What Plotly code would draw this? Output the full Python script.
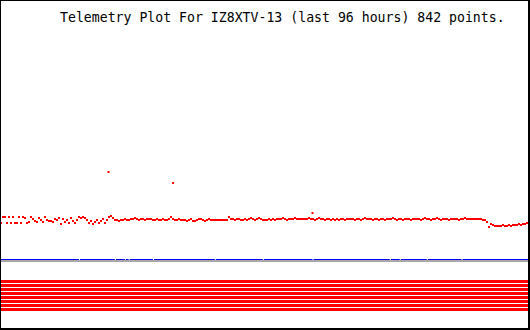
import numpy as np
import plotly.graph_objects as go

# ---- data ----
title_text = "Telemetry Plot For IZ8XTV-13 (last 96 hours) 842 points."
span_hours = 96

# telemetry samples (raw units), evenly spaced over the 96 hours
values = [
    35, 41, 41, 35, 41, 35, 41, 35, 35, 41, 35, 41, 40, 35, 36, 41, 39, 37, 36, 40,
    38, 36, 41, 38, 37, 37, 36, 39, 38, 40,
    34, 39, 36, 38, 35, 40, 37, 35, 38, 41, 40, 41, 40, 38, 35, 37, 34, 36, 38, 35,
    37, 39, 35, 38, 41, 42,
    40, 38, 38, 37, 38, 38, 39, 38, 38, 39, 39, 40, 39, 38, 39, 39, 38, 39, 39, 39,
    38, 38, 39, 38, 38, 39, 38, 38, 39, 41, 39, 38, 38, 39,
    38, 38, 38, 37, 38, 39, 37, 37, 38, 39,
    39, 38, 37, 38, 39, 38, 38, 38, 38, 38,
    38, 38, 38, 38, 41, 39, 39, 38, 39, 39,
    38, 38, 39, 38, 39, 40, 39, 38, 39, 40,
    39, 38, 38, 38, 39, 38, 39, 38, 39, 39,
    39, 40, 39, 38, 39, 39, 39, 40, 39, 39,
    39, 39, 39, 39, 40, 39, 39, 38, 39, 40,
    39, 39, 38, 39, 39, 38, 39, 38, 39, 38,
    39, 39, 38, 39, 39,
    39, 39, 38, 39, 39, 38, 39, 40, 39, 39,
    39, 38, 39, 39, 38, 39, 39, 38, 39, 39,
    39, 40, 39, 38, 39, 39, 38, 39, 39, 39,
    38, 39, 39, 39, 39, 38, 39, 40, 39, 39,
    38, 39, 39, 40, 39, 38, 39, 39, 39, 38,
    39, 39, 39, 39, 38, 39, 39, 40, 39, 39,
    39, 39, 39, 39, 39, 39, 38, 38, 36, 31,
    34, 33, 32, 32, 32, 32, 33, 32, 32, 33,
    32, 33, 33, 33, 34, 33, 34, 34, 35, 34,
]

# isolated spikes
spike_hours = [19.65, 31.35, 56.6]
spike_values = [86, 75, 45]

# hours at which the time bar has a break mark
break_hours = [14.4, 20.9, 22.7, 23.4, 27.8, 39.0, 47.7, 56.7, 70.7, 72.5, 77.4, 83.7]

# status bit channels drawn as stripes
channels = [1, 2, 3, 4, 5, 6, 7, 8]

# ---- figure ----
W, H = 530, 330
n = len(values)
hours = [(2 * i + 1) * span_hours / W for i in range(n)]

fig = go.Figure()

fig.add_trace(go.Scatter(
    x=hours + spike_hours, y=values + spike_values,
    mode="markers",
    marker=dict(symbol="square", size=2, color="#ff0000", line=dict(width=0)),
    hoverinfo="skip", showlegend=False,
))

for c in channels:
    fig.add_trace(go.Scatter(
        x=[0, span_hours], y=[c, c], yaxis="y2",
        mode="lines", line=dict(color="#ff0000", width=3),
        hoverinfo="skip", showlegend=False,
    ))

def px_x(p):
    return p / W

def px_y(p):
    return 1 - p / H

shapes = []
# time bar (blue with grey shadow)
shapes.append(dict(type="line", xref="paper", yref="paper",
                   x0=px_x(1), x1=px_x(528), y0=px_y(259.5), y1=px_y(259.5),
                   line=dict(color="#0000ff", width=1)))
shapes.append(dict(type="line", xref="paper", yref="paper",
                   x0=px_x(1), x1=px_x(528), y0=px_y(261), y1=px_y(261),
                   line=dict(color="#a8a8a8", width=2)))
for h in break_hours:
    shapes.append(dict(type="line", xref="x", yref="paper",
                       x0=h, x1=h, y0=px_y(259), y1=px_y(260),
                       line=dict(color="#ffffff", width=1)))
# border
shapes.append(dict(type="line", xref="paper", yref="paper",
                   x0=px_x(0.5), x1=px_x(0.5), y0=0, y1=1, line=dict(color="#000", width=1)))
shapes.append(dict(type="line", xref="paper", yref="paper",
                   x0=0, x1=1, y0=px_y(0.5), y1=px_y(0.5), line=dict(color="#000", width=1)))
shapes.append(dict(type="line", xref="paper", yref="paper",
                   x0=px_x(529), x1=px_x(529), y0=0, y1=1, line=dict(color="#000", width=2)))
shapes.append(dict(type="line", xref="paper", yref="paper",
                   x0=0, x1=1, y0=px_y(329), y1=px_y(329), line=dict(color="#000", width=2)))

fig.update_layout(
    width=W, height=H, autosize=False,
    margin=dict(l=0, r=0, t=0, b=0, pad=0),
    paper_bgcolor="#ffffff", plot_bgcolor="#ffffff",
    xaxis=dict(range=[0, span_hours], domain=[0, 1], visible=False, fixedrange=True),
    yaxis=dict(range=[0, 258], domain=[72 / H, 1], visible=False, fixedrange=True),
    yaxis2=dict(range=[-4.125, 13.875], domain=[0, 72 / H], visible=False, fixedrange=True),
    shapes=shapes,
    annotations=[dict(
        text=title_text, xref="paper", yref="paper",
        x=px_x(59), y=px_y(17), xanchor="left", yanchor="middle",
        showarrow=False, borderpad=0,
        font=dict(family="DejaVu Sans Mono", size=13.2, color="#000000"),
    )],
)

fig.write_html("out.html")
